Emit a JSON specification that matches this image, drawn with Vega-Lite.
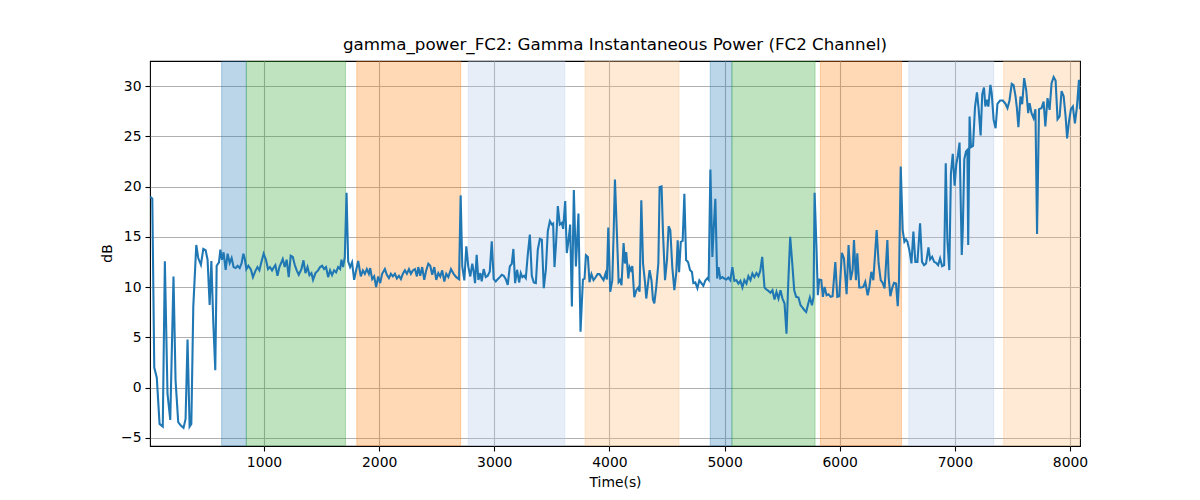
{
  "$schema": "https://vega.github.io/schema/vega-lite/v6.json",
  "autosize": {"type": "none"},
  "padding": {"left": 150, "top": 61, "right": 120, "bottom": 54},
  "width": 930,
  "height": 385,
  "background": "white",
  "title": {"text": "gamma_power_FC2: Gamma Instantaneous Power (FC2 Channel)", "font": "DejaVu Sans", "fontSize": 16.7, "fontWeight": "normal", "color": "black", "anchor": "middle", "offset": 7},
  "config": {
    "view": {"stroke": "black", "strokeWidth": 1.1},
    "axis": {"domain": false, "grid": true, "zindex": 1, "gridColor": "#b0b0b0", "gridWidth": 1.1, "tickColor": "black", "tickSize": 5, "tickWidth": 1.1, "labelFont": "DejaVu Sans", "labelFontSize": 13.9, "labelColor": "black", "titleFont": "DejaVu Sans", "titleFontSize": 13.9, "titleFontWeight": "normal", "titleColor": "black"}
  },
  "datasets": {
    "spans": [
      {"start": 632, "end": 847, "kind": "a"},
      {"start": 847, "end": 1708, "kind": "b"},
      {"start": 1806, "end": 2708, "kind": "c"},
      {"start": 2774, "end": 3612, "kind": "d"},
      {"start": 3789, "end": 4604, "kind": "e"},
      {"start": 4876, "end": 5064, "kind": "a"},
      {"start": 5064, "end": 5786, "kind": "b"},
      {"start": 5832, "end": 6537, "kind": "c"},
      {"start": 6600, "end": 7337, "kind": "d"},
      {"start": 7424, "end": 8120, "kind": "e"}
    ],
    "series": [
      {"t":12,"v":19.0},{"t":30,"v":18.8},{"t":47,"v":2.0},{"t":69,"v":1.0},{"t":93,"v":-3.6},{"t":121,"v":-3.87},{"t":139,"v":12.57},{"t":162,"v":-0.6},{"t":186,"v":-3.2},{"t":214,"v":11.07},{"t":232,"v":0.73},{"t":255,"v":-3.43},{"t":278,"v":-3.77},{"t":301,"v":-4.0},{"t":319,"v":-3.1},{"t":336,"v":4.8},{"t":354,"v":-3.87},{"t":369,"v":-3.6},{"t":386,"v":8.07},{"t":412,"v":14.2},{"t":429,"v":12.9},{"t":452,"v":12.23},{"t":473,"v":13.8},{"t":493,"v":13.67},{"t":510,"v":12.73},{"t":528,"v":8.23},{"t":543,"v":12.6},{"t":560,"v":6.4},{"t":577,"v":1.73},{"t":589,"v":12.13},{"t":609,"v":12.47},{"t":621,"v":13.73},{"t":635,"v":12.73},{"t":649,"v":13.47},{"t":667,"v":11.73},{"t":684,"v":13.33},{"t":702,"v":12.4},{"t":719,"v":12.9},{"t":736,"v":12.0},{"t":754,"v":11.9},{"t":771,"v":12.13},{"t":789,"v":11.9},{"t":806,"v":12.4},{"t":821,"v":13.33},{"t":835,"v":12.73},{"t":847,"v":11.8},{"t":864,"v":12.13},{"t":887,"v":11.73},{"t":904,"v":11.0},{"t":925,"v":11.6},
      {"t":943,"v":12.0},{"t":960,"v":11.67},{"t":977,"v":12.47},{"t":997,"v":13.33},{"t":1017,"v":12.73},{"t":1035,"v":11.8},{"t":1052,"v":12.0},{"t":1070,"v":11.67},{"t":1087,"v":12.0},{"t":1099,"v":12.2},{"t":1117,"v":11.13},{"t":1134,"v":12.0},{"t":1151,"v":12.47},{"t":1163,"v":12.8},{"t":1180,"v":12.0},{"t":1197,"v":12.73},{"t":1215,"v":11.0},{"t":1232,"v":13.13},{"t":1250,"v":13.0},{"t":1267,"v":12.23},{"t":1284,"v":11.67},{"t":1302,"v":11.23},{"t":1325,"v":11.8},{"t":1343,"v":12.67},{"t":1360,"v":11.4},{"t":1378,"v":12.0},{"t":1395,"v":11.2},{"t":1412,"v":11.4},{"t":1426,"v":10.73},{"t":1447,"v":11.4},{"t":1470,"v":11.67},{"t":1487,"v":12.0},{"t":1505,"v":12.13},{"t":1522,"v":11.8},{"t":1539,"v":12.0},{"t":1557,"v":11.0},{"t":1574,"v":11.67},{"t":1591,"v":11.2},{"t":1609,"v":11.67},{"t":1626,"v":11.47},{"t":1644,"v":12.0},{"t":1661,"v":11.8},{"t":1673,"v":12.73},{"t":1687,"v":12.0},{"t":1702,"v":13.0},{"t":1717,"v":19.4},{"t":1731,"v":12.57},{"t":1748,"v":12.0},{"t":1765,"v":12.47},{"t":1783,"v":10.73},{"t":1800,"v":11.67},
      {"t":1818,"v":12.6},{"t":1841,"v":11.07},{"t":1859,"v":11.67},{"t":1876,"v":11.33},{"t":1893,"v":11.8},{"t":1911,"v":11.33},{"t":1922,"v":11.9},{"t":1940,"v":10.8},{"t":1957,"v":11.07},{"t":1974,"v":10.0},{"t":1992,"v":11.07},{"t":2009,"v":10.4},{"t":2026,"v":11.33},{"t":2050,"v":11.8},{"t":2067,"v":11.23},{"t":2085,"v":10.9},{"t":2102,"v":11.33},{"t":2119,"v":11.07},{"t":2137,"v":11.33},{"t":2154,"v":10.87},{"t":2172,"v":11.13},{"t":2189,"v":10.8},{"t":2206,"v":11.33},{"t":2224,"v":11.67},{"t":2241,"v":11.33},{"t":2259,"v":11.8},{"t":2276,"v":11.33},{"t":2293,"v":11.67},{"t":2311,"v":11.8},{"t":2328,"v":11.07},{"t":2340,"v":12.0},{"t":2357,"v":11.13},{"t":2374,"v":12.0},{"t":2392,"v":10.73},{"t":2409,"v":11.67},{"t":2427,"v":12.33},{"t":2444,"v":12.13},{"t":2461,"v":11.23},{"t":2479,"v":12.0},{"t":2496,"v":10.73},{"t":2514,"v":11.4},{"t":2531,"v":11.07},{"t":2548,"v":11.67},{"t":2566,"v":10.57},{"t":2583,"v":11.33},{"t":2601,"v":11.0},{"t":2624,"v":11.8},{"t":2647,"v":11.33},{"t":2670,"v":11.0},{"t":2694,"v":10.8},
      {"t":2708,"v":19.13},{"t":2722,"v":12.07},{"t":2740,"v":10.67},{"t":2757,"v":14.07},{"t":2774,"v":12.07},{"t":2792,"v":11.07},{"t":2809,"v":12.33},{"t":2821,"v":11.57},{"t":2833,"v":10.4},{"t":2847,"v":13.23},{"t":2862,"v":10.73},{"t":2879,"v":11.4},{"t":2891,"v":10.57},{"t":2908,"v":11.8},{"t":2926,"v":11.0},{"t":2943,"v":11.13},{"t":2961,"v":11.57},{"t":2978,"v":14.57},{"t":2995,"v":10.8},{"t":3013,"v":10.57},{"t":3030,"v":10.8},{"t":3048,"v":11.0},{"t":3065,"v":11.23},{"t":3082,"v":11.13},{"t":3100,"v":10.8},{"t":3117,"v":10.23},{"t":3135,"v":12.07},{"t":3152,"v":12.33},{"t":3166,"v":13.8},{"t":3181,"v":10.4},{"t":3198,"v":11.73},{"t":3216,"v":10.47},{"t":3230,"v":11.4},{"t":3244,"v":11.0},{"t":3259,"v":11.13},{"t":3274,"v":10.9},{"t":3291,"v":13.23},{"t":3309,"v":15.23},{"t":3326,"v":11.13},{"t":3343,"v":10.47},{"t":3361,"v":10.4},{"t":3378,"v":13.73},{"t":3396,"v":14.8},{"t":3413,"v":14.73},{"t":3430,"v":9.9},{"t":3448,"v":11.73},{"t":3465,"v":15.57},{"t":3483,"v":16.57},{"t":3500,"v":16.23},{"t":3511,"v":16.33},{"t":3523,"v":12.0},{"t":3537,"v":14.47},{"t":3552,"v":18.07},{"t":3569,"v":16.23},
      {"t":3587,"v":16.4},{"t":3598,"v":15.8},{"t":3616,"v":18.57},{"t":3630,"v":13.4},{"t":3644,"v":14.57},{"t":3659,"v":16.23},{"t":3674,"v":8.07},{"t":3691,"v":19.67},{"t":3709,"v":12.07},{"t":3731,"v":17.33},{"t":3749,"v":5.57},{"t":3770,"v":10.76},{"t":3784,"v":10.86},{"t":3796,"v":13.18},{"t":3813,"v":13.0},{"t":3827,"v":10.5},{"t":3844,"v":11.3},{"t":3862,"v":10.7},{"t":3879,"v":10.96},{"t":3897,"v":11.3},{"t":3914,"v":11.3},{"t":3931,"v":11.0},{"t":3949,"v":10.7},{"t":3966,"v":11.36},{"t":3978,"v":10.76},{"t":3990,"v":15.93},{"t":4007,"v":9.54},{"t":4025,"v":10.7},{"t":4036,"v":15.07},{"t":4048,"v":20.7},{"t":4066,"v":15.07},{"t":4080,"v":10.5},{"t":4094,"v":10.7},{"t":4105,"v":10.2},{"t":4123,"v":14.4},{"t":4135,"v":12.35},{"t":4146,"v":13.5},{"t":4164,"v":10.86},{"t":4175,"v":12.0},{"t":4187,"v":11.7},{"t":4199,"v":12.1},{"t":4216,"v":9.0},{"t":4234,"v":9.7},{"t":4251,"v":9.97},{"t":4262,"v":9.54},{"t":4277,"v":18.64},{"t":4292,"v":12.35},{"t":4309,"v":10.5},{"t":4320,"v":8.87},{"t":4335,"v":10.36},{"t":4349,"v":11.7},{"t":4366,"v":10.63},{"t":4378,"v":8.77},{"t":4390,"v":8.38},{"t":4407,"v":10.03},{"t":4425,"v":12.35},{"t":4436,"v":19.97},{"t":4453,"v":20.03},{"t":4465,"v":15.5},{"t":4483,"v":10.7},{"t":4500,"v":12.7},{"t":4514,"v":16.06},{"t":4529,"v":15.66},{"t":4546,"v":12.0},{"t":4564,"v":9.7},{"t":4581,"v":11.5},{"t":4593,"v":14.67},{"t":4605,"v":11.5},{"t":4620,"v":14.5},{"t":4636,"v":14.6},{"t":4651,"v":19.3},{"t":4666,"v":12.7},{"t":4683,"v":12.5},{"t":4700,"v":11.7},{"t":4717,"v":11.5},{"t":4729,"v":10.4},{"t":4746,"v":10.47},{"t":4764,"v":9.9},{"t":4781,"v":10.67},{"t":4799,"v":10.4},{"t":4816,"v":10.13},{"t":4833,"v":10.67},{"t":4851,"v":10.9},{"t":4862,"v":10.73},{"t":4877,"v":21.7},{"t":4894,"v":13.0},{"t":4905,"v":15.66},{"t":4920,"v":18.8},{"t":4936,"v":10.86},{"t":4948,"v":12.0},{"t":4963,"v":10.86},{"t":4981,"v":11.0},{"t":4998,"v":10.86},{"t":5016,"v":10.76},{"t":5033,"v":10.96},{"t":5050,"v":10.7},{"t":5068,"v":12.0},{"t":5085,"v":10.63},{"t":5103,"v":10.7},{"t":5120,"v":10.36},{"t":5138,"v":10.63},{"t":5155,"v":9.97},{"t":5172,"v":10.7},{"t":5190,"v":10.36},{"t":5207,"v":11.1},{"t":5225,"v":10.7},{"t":5242,"v":11.36},{"t":5259,"v":11.0},{"t":5277,"v":11.4},{"t":5294,"v":11.1},{"t":5310,"v":11.6},
      {"t":5327,"v":13.02},{"t":5347,"v":9.97},{"t":5364,"v":9.77},{"t":5381,"v":9.63},{"t":5399,"v":9.44},{"t":5416,"v":9.7},{"t":5434,"v":8.77},{"t":5451,"v":9.53},{"t":5468,"v":8.87},{"t":5486,"v":9.7},{"t":5503,"v":8.87},{"t":5521,"v":8.37},{"t":5538,"v":5.38},{"t":5553,"v":10.37},{"t":5570,"v":15.02},{"t":5588,"v":12.36},{"t":5605,"v":9.7},{"t":5622,"v":9.04},{"t":5642,"v":8.97},{"t":5660,"v":8.2},{"t":5677,"v":7.97},{"t":5694,"v":7.71},{"t":5709,"v":7.54},{"t":5727,"v":8.37},{"t":5741,"v":8.97},{"t":5759,"v":8.2},{"t":5773,"v":9.04},{"t":5782,"v":19.4},{"t":5799,"v":13.7},{"t":5810,"v":9.2},{"t":5822,"v":10.76},{"t":5840,"v":10.7},{"t":5854,"v":9.04},{"t":5869,"v":10.03},{"t":5886,"v":9.2},{"t":5903,"v":9.3},{"t":5921,"v":9.04},{"t":5938,"v":9.1},{"t":5962,"v":12.5},{"t":5979,"v":9.04},{"t":5996,"v":9.1},{"t":6019,"v":13.42},{"t":6037,"v":12.86},{"t":6060,"v":9.3},{"t":6077,"v":14.19},{"t":6095,"v":10.7},{"t":6112,"v":11.69},{"t":6124,"v":14.68},{"t":6141,"v":10.7},{"t":6153,"v":13.36},{"t":6170,"v":9.97},{"t":6188,"v":9.97},{"t":6205,"v":10.03},{"t":6222,"v":10.53},{"t":6243,"v":9.2},{"t":6257,"v":9.97},{"t":6275,"v":11.53},{"t":6292,"v":10.7},{"t":6321,"v":15.68},{"t":6338,"v":12.36},{"t":6356,"v":10.7},{"t":6373,"v":10.43},{"t":6390,"v":9.87},{"t":6414,"v":14.68},{"t":6425,"v":11.03},{"t":6440,"v":9.1},{"t":6457,"v":9.97},{"t":6472,"v":10.43},{"t":6489,"v":10.37},{"t":6504,"v":8.1},{"t":6515,"v":10.7},{"t":6530,"v":22.0},{"t":6547,"v":15.68},{"t":6562,"v":14.52},{"t":6576,"v":14.75},{"t":6588,"v":14.52},{"t":6605,"v":13.69},{"t":6623,"v":12.36},{"t":6640,"v":15.52},{"t":6657,"v":12.52},{"t":6675,"v":12.52},{"t":6698,"v":16.35},{"t":6715,"v":12.52},{"t":6733,"v":12.19},{"t":6750,"v":12.36},{"t":6771,"v":13.95},{"t":6785,"v":12.76},{"t":6803,"v":13.02},{"t":6820,"v":12.52},{"t":6837,"v":12.43},{"t":6855,"v":12.19},{"t":6872,"v":12.86},{"t":6890,"v":12.09},{"t":6907,"v":12.19},{"t":6921,"v":22.33},{"t":6935,"v":14.75},{"t":6952,"v":11.7},{"t":6966,"v":21.33},{"t":6982,"v":23.26},{"t":6998,"v":20.1},{"t":7012,"v":22.16},{"t":7026,"v":23.1},{"t":7041,"v":24.39},{"t":7060,"v":13.2},{"t":7069,"v":15.68},{"t":7082,"v":22.72},{"t":7097,"v":23.49},{"t":7109,"v":23.65},{"t":7116,"v":14.19},{"t":7128,"v":26.98},{"t":7140,"v":23.92},{"t":7158,"v":24.05},{"t":7175,"v":27.9},{"t":7192,"v":29.37},{"t":7206,"v":27.81},{"t":7224,"v":25.1},{"t":7238,"v":29.2},{"t":7253,"v":29.85},{"t":7265,"v":27.97},{"t":7277,"v":28.64},{"t":7291,"v":27.97},{"t":7309,"v":30.13},{"t":7320,"v":29.3},{"t":7337,"v":26.64},{"t":7354,"v":25.81},{"t":7370,"v":28.24},{"t":7393,"v":28.57},{"t":7417,"v":28.57},{"t":7440,"v":28.24},{"t":7457,"v":27.81},{"t":7475,"v":28.6},{"t":7494,"v":30.23},{"t":7510,"v":30.1},{"t":7527,"v":29.0},{"t":7539,"v":27.81},{"t":7552,"v":25.91},{"t":7570,"v":28.97},{"t":7585,"v":28.2},{"t":7602,"v":30.8},{"t":7620,"v":29.57},{"t":7637,"v":27.31},{"t":7649,"v":28.31},{"t":7666,"v":27.31},{"t":7684,"v":26.81},{"t":7700,"v":27.71},{"t":7714,"v":15.3},{"t":7731,"v":27.71},{"t":7753,"v":27.81},{"t":7771,"v":28.47},{"t":7786,"v":26.0},{"t":7805,"v":28.8},{"t":7823,"v":27.64},{"t":7840,"v":30.3},{"t":7858,"v":30.9},{"t":7875,"v":30.56},{"t":7892,"v":26.7},{"t":7910,"v":26.98},{"t":7927,"v":29.5},{"t":7945,"v":29.0},{"t":7962,"v":26.98},{"t":7975,"v":24.8},{"t":7991,"v":26.48},{"t":8008,"v":27.7},{"t":8025,"v":27.97},{"t":8043,"v":26.3},{"t":8060,"v":27.9},{"t":8078,"v":30.63},{"t":8087,"v":27.7}
    ]
  },
  "layer": [
    {
      "data": {"name": "spans"},
      "mark": {"type": "rect", "fillOpacity": 0.3, "strokeOpacity": 0.3, "strokeWidth": 1.1, "clip": true},
      "encoding": {
        "x": {"field": "start", "type": "quantitative", "scale": {"domain": [10, 8087], "nice": false, "zero": false}, "axis": {"values": [1000, 2000, 3000, 4000, 5000, 6000, 7000, 8000], "format": "d", "title": "Time(s)", "titleBaseline": "middle", "titleY": 36, "labelPadding": 4, "labelFlush": false}},
        "x2": {"field": "end"},
        "color": {"field": "kind", "type": "nominal", "scale": {"domain": ["a", "b", "c", "d", "e"], "range": ["#1f77b4", "#2ca02c", "#ff7f0e", "#aec7e8", "#ffbb78"]}, "legend": null},
        "stroke": {"field": "kind", "type": "nominal", "scale": {"domain": ["a", "b", "c", "d", "e"], "range": ["#1f77b4", "#2ca02c", "#ff7f0e", "#aec7e8", "#ffbb78"]}, "legend": null}
      }
    },
    {
      "data": {"name": "series"},
      "mark": {"type": "line", "color": "#1f77b4", "strokeWidth": 2.08, "clip": true},
      "encoding": {
        "x": {"field": "t", "type": "quantitative"},
        "y": {"field": "v", "type": "quantitative", "scale": {"domain": [-5.8, 32.5], "nice": false, "zero": false}, "axis": {"values": [-5, 0, 5, 10, 15, 20, 25, 30], "title": "dB", "titleX": -43, "titleY": 192, "titleAlign": "center", "titleBaseline": "middle", "titleAngle": 270, "labelPadding": 4}}
      }
    }
  ]
}
